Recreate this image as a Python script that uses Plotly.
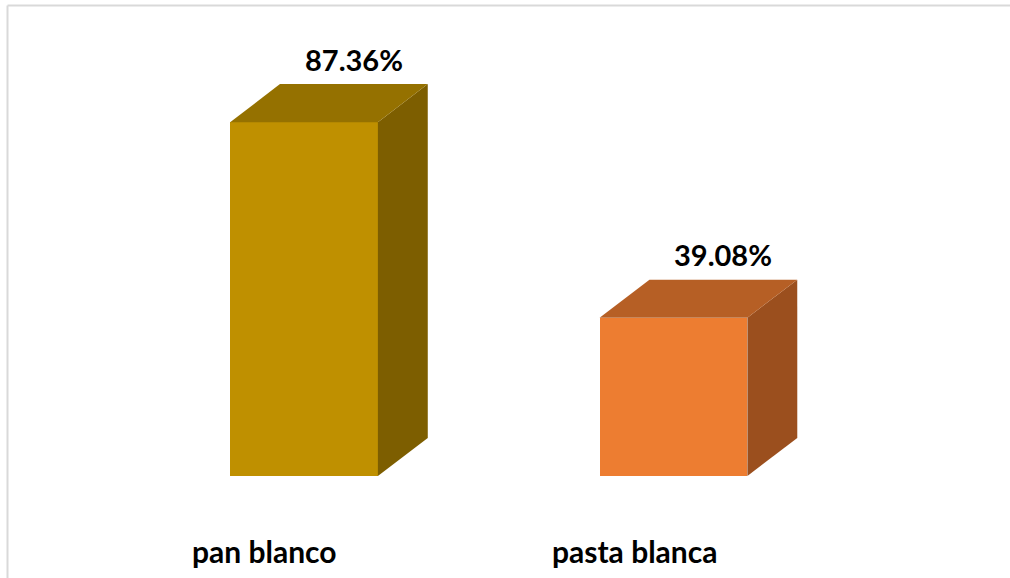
import plotly.graph_objects as go

# ---- data ----
categories = ["pan blanco", "pasta blanca"]
values = [87.36, 39.08]
value_labels = ["87.36%", "39.08%"]
front_colors = ["#BF9000", "#ED7D31"]
top_colors = ["#957100", "#B65F25"]
side_colors = ["#7D5E00", "#9B4F1E"]

# ---- geometry (in axis units) ----
W, H = 1010, 578
bar_w = 0.40          # bar width in category units
dx = 0.135            # 3D depth offset along x
dy = 9.4              # 3D depth offset along y (value units)
x_range = [-0.8227, 1.9107]
y_range = [-25.19, 117.53]

xs = list(range(len(categories)))

fig = go.Figure()

# front faces
fig.add_trace(go.Bar(
    x=xs, y=values, width=bar_w,
    marker=dict(color=front_colors, line=dict(width=0)),
    hoverinfo="skip", showlegend=False,
))

# side and top faces, computed from the values
for i, v in enumerate(values):
    xl = xs[i] - bar_w / 2
    xr = xs[i] + bar_w / 2
    fig.add_trace(go.Scatter(
        x=[xr, xr + dx, xr + dx, xr, xr],
        y=[0, dy, v + dy, v, 0],
        fill="toself", fillcolor=side_colors[i], mode="lines",
        line=dict(width=0, color=side_colors[i]),
        hoverinfo="skip", showlegend=False,
    ))
    fig.add_trace(go.Scatter(
        x=[xl, xr, xr + dx, xl + dx, xl],
        y=[v, v, v + dy, v + dy, v],
        fill="toself", fillcolor=top_colors[i], mode="lines",
        line=dict(width=0, color=top_colors[i]),
        hoverinfo="skip", showlegend=False,
    ))
    # value label
    fig.add_annotation(
        x=xs[i] + dx, y=v + dy, text=f"<b>{value_labels[i]}</b>",
        showarrow=False, yanchor="middle", yshift=25,
        font=dict(family="Lato", size=29, color="#000000"),
    )
    # category label
    fig.add_annotation(
        x=xs[i], y=-18.5, text=f"<b>{categories[i]}</b>",
        showarrow=False, yanchor="middle", xshift=-39,
        font=dict(family="Lato", size=30, color="#000000"),
    )

# chart border (only top and left edges are inside the view)
fig.add_shape(
    type="line", xref="paper", yref="paper",
    x0=7.5 / W, x1=1.0, y0=1 - 5.5 / H, y1=1 - 5.5 / H,
    line=dict(color="#D9D9D9", width=2),
)
fig.add_shape(
    type="line", xref="paper", yref="paper",
    x0=7.5 / W, x1=7.5 / W, y0=0.0, y1=1 - 5.5 / H,
    line=dict(color="#D9D9D9", width=2),
)

fig.update_layout(
    width=W, height=H,
    margin=dict(l=0, r=0, t=0, b=0),
    paper_bgcolor="white", plot_bgcolor="white",
    xaxis=dict(range=x_range, visible=False, fixedrange=True),
    yaxis=dict(range=y_range, visible=False, fixedrange=True),
    bargap=0,
)

fig.write_html(
    "out.html",
    config={"displayModeBar": False},
    post_script="document.body.style.margin='0';document.body.style.overflow='hidden';",
)
